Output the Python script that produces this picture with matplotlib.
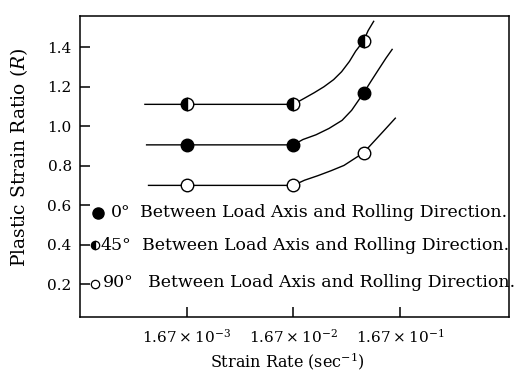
import matplotlib
matplotlib.use('Agg')
import matplotlib.pyplot as plt
from matplotlib.ticker import NullLocator

# measured values (strain rate in 1/s, plastic strain ratio R)
strain_rate = [1.67e-3, 1.67e-2, 7.6e-2]
r_0 = [0.905, 0.905, 1.167]
r_45 = [1.11, 1.11, 1.431]
r_90 = [0.70, 0.70, 0.865]

# hand-drawn trend curves
curve_0_rate = [7.0e-4, 1.67e-3, 1.67e-2, 0.0205, 0.0272, 0.036, 0.0478, 0.0588,
                0.076, 0.0881, 0.1042, 0.1235, 0.141]
curve_0_r = [0.905, 0.905, 0.905, 0.932, 0.956, 0.988, 1.029, 1.080,
             1.167, 1.222, 1.283, 1.344, 1.388]
curve_45_rate = [6.75e-4, 1.67e-3, 1.67e-2, 0.0212, 0.0262, 0.0323, 0.0398, 0.0473,
                 0.056, 0.0641, 0.076, 0.0839, 0.0946]
curve_45_r = [1.11, 1.11, 1.11, 1.141, 1.169, 1.199, 1.235, 1.275,
              1.327, 1.379, 1.431, 1.483, 1.530]
curve_90_rate = [7.3e-4, 1.67e-3, 1.67e-2, 0.0212, 0.0283, 0.0376, 0.0498, 0.0636,
                 0.076, 0.0933, 0.1186, 0.151]
curve_90_r = [0.70, 0.70, 0.70, 0.726, 0.749, 0.774, 0.801, 0.838,
              0.865, 0.917, 0.978, 1.040]

x_ticks = [1.67e-3, 1.67e-2, 1.67e-1]
x_tick_labels = [r'$1.67\times10^{-3}$', r'$1.67\times10^{-2}$', r'$1.67\times10^{-1}$']
y_ticks = [0.2, 0.4, 0.6, 0.8, 1.0, 1.2, 1.4]

legend_angles = ['0°', '45°', '90°']
legend_text = 'Between Load Axis and Rolling Direction.'

plt.rcParams['font.family'] = 'DejaVu Serif'
plt.rcParams['mathtext.fontset'] = 'dejavuserif'

fig = plt.figure(figsize=(5.18, 3.72), dpi=100)
ax = fig.add_axes([0.1544, 0.1478, 0.8282, 0.8092])
ax.set_xscale('log')
ax.set_xlim(1.66e-4, 1.76)
ax.set_ylim(0.034, 1.557)

for sp in ax.spines.values():
    sp.set_linewidth(1.1)

# curves
ax.plot(curve_45_rate, curve_45_r, color='black', lw=1.0, zorder=2)
ax.plot(curve_0_rate, curve_0_r, color='black', lw=1.0, zorder=2)
ax.plot(curve_90_rate, curve_90_r, color='black', lw=1.0, zorder=2)

# markers
ax.plot(strain_rate, r_45, 'o', ms=9, mec='black', mew=1.0, mfc='black',
        mfcalt='white', fillstyle='left', zorder=3)
ax.plot(strain_rate, r_0, 'o', ms=9, mec='black', mew=1.0, mfc='black', zorder=3)
ax.plot(strain_rate, r_90, 'o', ms=9, mec='black', mew=1.0, mfc='white', zorder=3)

# in-plot key
tr = ax.get_yaxis_transform()
ax.plot([0.043], [0.558], 'o', ms=8, mfc='black', mec='black', transform=tr, clip_on=False)
ax.plot([0.035], [0.40], 'o', ms=6, mfc='black', mfcalt='white', fillstyle='left',
        mec='black', mew=0.9, transform=tr, clip_on=False)
ax.plot([0.036], [0.203], 'o', ms=6, mfc='white', mec='black', mew=0.9,
        transform=tr, clip_on=False)

key_rows = [0.561, 0.394, 0.207]
angle_x = [0.072, 0.047, 0.053]
text_x = [0.141, 0.1445, 0.158]
for ang, ax_x, tx, ry in zip(legend_angles, angle_x, text_x, key_rows):
    ax.text(ax_x, ry, ang, transform=tr, fontsize=12.5, va='center', ha='left')
    ax.text(tx, ry, legend_text, transform=tr, fontsize=12.5, va='center', ha='left')

ax.set_xticks(x_ticks)
ax.set_xticklabels(x_tick_labels)
ax.xaxis.set_minor_locator(NullLocator())
ax.set_yticks(y_ticks)
ax.set_yticklabels(['%.1f' % v for v in y_ticks])
ax.tick_params(direction='in', length=7, width=1.1, labelsize=11)
ax.tick_params(axis='x', pad=8)
ax.tick_params(axis='y', pad=6)

ax.set_ylabel('Plastic Strain Ratio ($R$)', fontsize=13.5)
ax.yaxis.set_label_coords(-0.117, 0.53)
ax.set_xlabel('Strain Rate (sec$^{-1}$)', fontsize=11.5)
ax.xaxis.set_label_coords(0.483, -0.112)

fig.savefig('out.png', dpi=100)
